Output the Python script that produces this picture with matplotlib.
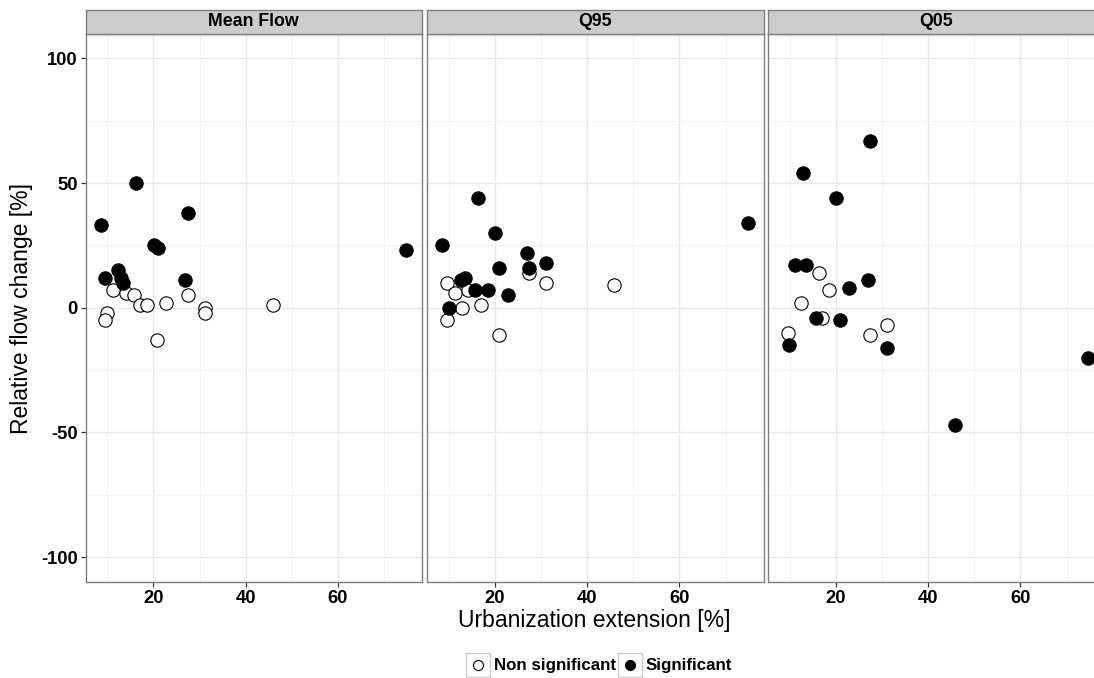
import matplotlib
matplotlib.use("Agg")
import matplotlib.pyplot as plt
from matplotlib.patches import Rectangle
from matplotlib.lines import Line2D

plt.rcParams['font.family'] = ['Liberation Sans', 'DejaVu Sans']

# ---- data ----
panels = ["Mean Flow", "Q95", "Q05"]

mean_x_sig = [16.2, 8.6, 27.4, 20.1, 20.9, 74.8, 12.4, 9.6, 12.9, 13.5, 26.9]
mean_y_sig = [50, 33, 38, 25, 24, 23, 15, 12, 12, 10, 11]
mean_x_ns = [11.3, 14.0, 15.7, 17.0, 18.6, 22.8, 27.4, 31.1, 31.1, 45.9, 10.0, 9.6, 20.8]
mean_y_ns = [7, 6, 5, 1, 1, 2, 5, 0, -2, 1, -2, -5, -13]

q95_x_sig = [16.3, 8.6, 20.1, 74.9, 27.0, 31.1, 20.9, 27.4, 12.6, 13.5, 15.7, 18.6, 22.9, 10.1]
q95_y_sig = [44, 25, 30, 34, 22, 18, 16, 16, 11, 12, 7, 7, 5, 0]
q95_x_ns = [9.7, 11.4, 14.2, 12.9, 17.1, 27.4, 31.1, 45.9, 9.6, 20.8]
q95_y_ns = [10, 6, 7, 0, 1, 14, 10, 9, -5, -11]

q05_x_sig = [27.4, 12.9, 20.1, 11.1, 13.6, 27.0, 22.8, 15.6, 20.8, 9.8, 31.1, 74.7, 45.9]
q05_y_sig = [67, 54, 44, 17, 17, 11, 8, -4, -5, -15, -16, -20, -47]
q05_x_ns = [16.3, 18.5, 12.5, 17.0, 9.6, 27.4, 31.1]
q05_y_ns = [14, 7, 2, -4, -10, -11, -7]

sig_x = [mean_x_sig, q95_x_sig, q05_x_sig]
sig_y = [mean_y_sig, q95_y_sig, q05_y_sig]
ns_x = [mean_x_ns, q95_x_ns, q05_x_ns]
ns_y = [mean_y_ns, q95_y_ns, q05_y_ns]

x_ticks = [20, 40, 60]
x_minor = [10, 30, 50, 70]
y_ticks = [-100, -50, 0, 50, 100]
y_minor = [-75, -25, 25, 75]
xlim = (5.3, 78.2)
ylim = (-110, 110)

# ---- layout (pixels) ----
W, H = 1094, 678
fig = plt.figure(figsize=(W / 100, H / 100), dpi=100)

lefts = [85.5, 427.0, 768.0]
pw = 336.5
top, bottom = 33.5, 582.0
strip_top = 9.5

border = '#7f7f7f'
for i, name in enumerate(panels):
    l = lefts[i]
    ax = fig.add_axes([l / W, 1 - bottom / H, pw / W, (bottom - top) / H])
    ax.set_xlim(*xlim)
    ax.set_ylim(*ylim)
    ax.set_xticks(x_ticks)
    ax.set_xticks(x_minor, minor=True)
    ax.set_yticks(y_ticks)
    ax.set_yticks(y_minor, minor=True)
    ax.grid(which='major', color='#e8e8e8', linewidth=1.0)
    ax.grid(which='minor', color='#f3f3f3', linewidth=0.7)
    ax.set_axisbelow(True)
    for s in ax.spines.values():
        s.set_color(border)
        s.set_linewidth(1.0)
    ax.tick_params(which='minor', length=0)
    ax.tick_params(which='major', direction='out', length=3.5, width=0.9,
                   color='#333333', labelsize=13.2, pad=2)
    for lab in ax.get_xticklabels() + ax.get_yticklabels():
        lab.set_fontweight('bold')
    if i == 0:
        ax.set_yticklabels([str(v) for v in y_ticks])
    else:
        ax.tick_params(axis='y', which='both', left=False, labelleft=False)
    ax.scatter(ns_x[i], ns_y[i], s=92, facecolors='white', edgecolors='black',
               linewidths=0.8, zorder=3, clip_on=True)
    ax.scatter(sig_x[i], sig_y[i], s=92, facecolors='black', edgecolors='black',
               linewidths=0.8, zorder=4, clip_on=True)

    sax = fig.add_axes([l / W, 1 - top / H, pw / W, (top - strip_top) / H])
    sax.set_facecolor('#cccccc')
    sax.set_xticks([])
    sax.set_yticks([])
    for s in sax.spines.values():
        s.set_color(border)
        s.set_linewidth(1.0)
    sax.text(0.5, 0.5, name, transform=sax.transAxes, ha='center', va='center',
             fontsize=12.8, fontweight='bold', color='black')

# axis titles
fig.text(594.5 / W, 1 - 620 / H, "Urbanization extension [%]", ha='center',
         va='center', fontsize=16.5)
fig.text(22 / W, 1 - 308 / H, "Relative flow change [%]", ha='center',
         va='center', rotation=90, fontsize=16.5)

# legend
lax = fig.add_axes([0, 0, 1, 1], facecolor='none')
lax.set_xlim(0, W)
lax.set_ylim(H, 0)
lax.axis('off')
key_y0, key_y1 = 652.5, 677.0
keys = [(465.5, 'white', "Non significant"), (617.5, 'black', "Significant")]
for kx, fc, lbl in keys:
    lax.add_patch(Rectangle((kx, key_y0), 24.5, key_y1 - key_y0, facecolor='white',
                            edgecolor='#cccccc', linewidth=1.0))
    lax.add_line(Line2D([kx + 12.25], [(key_y0 + key_y1) / 2], marker='o',
                        markersize=7.2, markerfacecolor=fc, markeredgecolor='black',
                        markeredgewidth=0.8, linestyle='none'))
    lax.text(kx + 28.0, (key_y0 + key_y1) / 2 + 0.5, lbl, ha='left', va='center',
             fontsize=12.2, fontweight='bold')

fig.savefig("out.png", dpi=100)
